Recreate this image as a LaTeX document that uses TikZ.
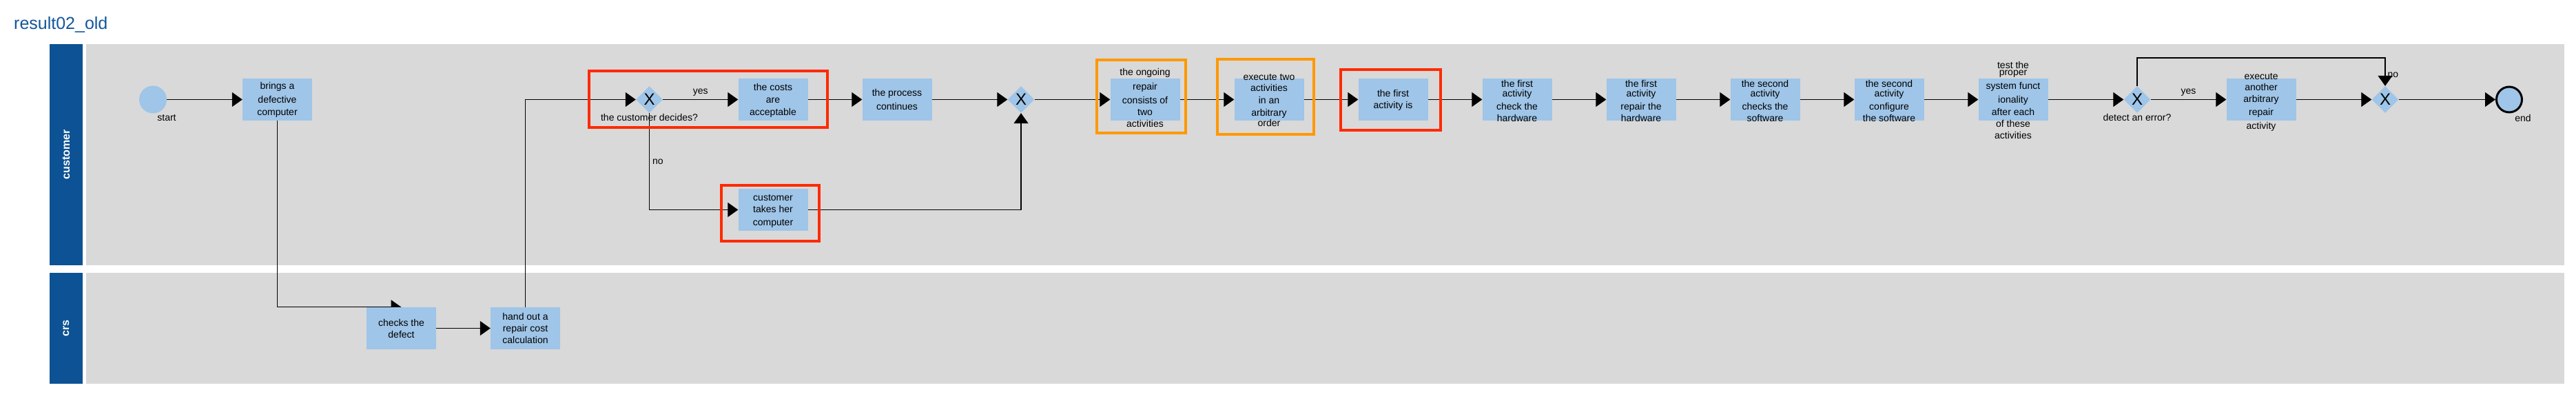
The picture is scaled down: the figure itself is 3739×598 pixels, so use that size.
\documentclass[tikz,border=0pt]{standalone}
\usepackage{fontspec}
\setmainfont{Liberation Sans}
\usetikzlibrary{arrows.meta,shapes.geometric}
\definecolor{lanegray}{HTML}{D9D9D9}
\definecolor{hdrblue}{HTML}{0D5294}
\definecolor{taskblue}{HTML}{9FC5E8}
\definecolor{titleblue}{HTML}{13569A}
\definecolor{hlred}{HTML}{FF2A00}
\definecolor{hlorange}{HTML}{FF9900}
\pgfdeclarelayer{lanes}
\pgfdeclarelayer{edges}
\pgfsetlayers{lanes,edges,main}
\tikzset{
  task/.style={rectangle, fill=taskblue, minimum width=101bp, minimum height=61bp, inner sep=0pt},
  tasktext/.style={align=center, font=\fontsize{14bp}{18bp}\selectfont, inner sep=0pt, text=black},
  gw/.style={diamond, fill=taskblue, minimum width=39bp, minimum height=39bp, inner sep=0pt, font=\fontsize{24bp}{24bp}\selectfont},
  startev/.style={circle, fill=taskblue, minimum size=40bp, inner sep=0pt},
  endev/.style={circle, fill=taskblue, draw=black, line width=3bp, minimum size=37bp, inner sep=0pt},
  evlabel/.style={font=\fontsize{14bp}{17bp}\selectfont, text=black},
  edgelabel/.style={font=\fontsize{14bp}{17bp}\selectfont, text=black, inner sep=0pt},
  lanetitle/.style={rotate=90, text=white, font=\fontsize{16bp}{18bp}\selectfont\bfseries},
  flow/.style={draw=black, line width=1.3bp, -{Triangle[length=15bp,width=21bp]}},
  hlr/.style={draw=hlred, line width=4bp},
  hlo/.style={draw=hlorange, line width=4bp},
}
\begin{document}
\begin{tikzpicture}[x=1bp,y=-1bp]
\useasboundingbox (0,0) rectangle (3739,598);
\begin{pgfonlayer}{lanes}
  \fill[white] (0,0) rectangle (3739,598);
  \fill[hdrblue] (72,64) rectangle (120,385);
  \fill[lanegray] (125,64) rectangle (3722,385);
  \fill[hdrblue] (72,396) rectangle (120,557);
  \fill[lanegray] (125,396) rectangle (3722,557);
\end{pgfonlayer}

\node[anchor=base west, inner sep=0pt, text=titleblue, font=\fontsize{25bp}{28bp}\selectfont] (title) at (20,43) {result02\_old};
\node[lanetitle] (lcust) at (96,224.5) {customer};
\node[lanetitle] (lcrs) at (96,476.5) {crs};

% customer lane
\node[startev, label={[evlabel, xshift=20bp, label distance=-2bp]below:start}] (start) at (222,144.5) {};
\node[task, label={[tasktext]center:{brings a\\[2bp]defective\\computer}}] (brings) at (402.5,144.5) {};
\node[gw, label={[evlabel, label distance=-2bp]below:the customer decides?}] (gw1) at (942.5,144.5) {X};
\node[task, label={[tasktext, yshift=-1.5bp]center:{the costs\\are\\acceptable}}] (costs) at (1122,144.5) {};
\node[task, label={[tasktext]center:{the process\\[2bp]continues}}] (process) at (1302,144.5) {};
\node[gw] (gw2) at (1482,144.5) {X};
\node[task, label={[tasktext, yshift=-1.5bp]center:{customer\\[-1bp]takes her\\[1bp]computer}}] (takes) at (1122,304.5) {};
\node[task, label={[tasktext, yshift=3bp]center:{the ongoing\\[3bp]repair\\[2bp]consists of\\[-1bp]two\\[-1bp]activities}}] (ongoing) at (1662,144.5) {};
\node[task, label={[tasktext, yshift=-1bp]center:{execute two\\[-2bp]activities\\in an\\arbitrary\\[-3bp]order}}] (execute) at (1842,144.5) {};
\node[task, label={[tasktext, yshift=-1bp]center:{the first\\[-1bp]activity is}}] (firstis) at (2022,144.5) {};
\node[task, label={[tasktext, yshift=-1.5bp]center:{the first\\[-4bp]activity\\[1bp]check the\\[-1bp]hardware}}] (checkhw) at (2202,144.5) {};
\node[task, label={[tasktext, yshift=-1.5bp]center:{the first\\[-4bp]activity\\[1bp]repair the\\[-1bp]hardware}}] (repairhw) at (2382,144.5) {};
\node[task, label={[tasktext, yshift=-1.5bp]center:{the second\\[-4bp]activity\\[1bp]checks the\\[-1bp]software}}] (checksw) at (2562,144.5) {};
\node[task, label={[tasktext, yshift=-1.5bp]center:{the second\\[-4bp]activity\\[1bp]configure\\[-1bp]the software}}] (configsw) at (2742,144.5) {};
\node[task, label={[tasktext, yshift=-0.5bp]center:{test the\\[-8bp]proper\\[2bp]system funct\\[2bp]ionality\\after each\\[-1bp]of these\\[-1bp]activities}}] (test) at (2922,144.5) {};
\node[gw, label={[evlabel, label distance=-2bp]below:detect an error?}] (gw3) at (3102,144.5) {X};
\node[task, label={[tasktext, yshift=-3.5bp]center:{execute\\[-2bp]another\\[-1bp]arbitrary\\[1bp]repair\\[2bp]activity}}] (another) at (3282,144.5) {};
\node[gw] (gw4) at (3462,144.5) {X};
\node[endev, label={[evlabel, xshift=20bp, label distance=-2bp]below:end}] (end) at (3642,144.5) {};
\coordinate (looptop) at (3282,84);

% crs lane
\node[task, label={[tasktext]center:{checks the\\[-1bp]defect}}] (checks) at (582.5,476.5) {};
\node[task, label={[tasktext]center:{hand out a\\[-1bp]repair cost\\[-1bp]calculation}}] (handout) at (762.5,476.5) {};

% highlight frames
\draw[hlr] (855,103) rectangle (1201,185);
\draw[hlr] (1047,269) rectangle (1189,350);
\draw[hlo] (1592,87) rectangle (1721,193);
\draw[hlo] (1767,86) rectangle (1907,195);
\draw[hlr] (1946,101) rectangle (2091,189);

\begin{pgfonlayer}{edges}
  \draw[flow] (start) -- (brings);
  \draw[flow] (brings.south) |- (checks.north);
  \draw[flow] (checks) -- (handout);
  \draw[flow] (handout.north) |- (gw1.west);
  \draw[flow] (gw1) -- node[edgelabel, anchor=base, yshift=8bp] {yes} (costs);
  \draw[flow] (costs) -- (process);
  \draw[flow] (process) -- (gw2);
  \draw[flow] (gw1.south) |- node[edgelabel, pos=0.25, anchor=west, xshift=4bp] {no} (takes.west);
  \draw[flow] (takes.east) -| (gw2.south);
  \draw[flow] (gw2) -- (ongoing);
  \draw[flow] (ongoing) -- (execute);
  \draw[flow] (execute) -- (firstis);
  \draw[flow] (firstis) -- (checkhw);
  \draw[flow] (checkhw) -- (repairhw);
  \draw[flow] (repairhw) -- (checksw);
  \draw[flow] (checksw) -- (configsw);
  \draw[flow] (configsw) -- (test);
  \draw[flow] (test) -- (gw3);
  \draw[flow] (gw3) -- node[edgelabel, anchor=base, yshift=8bp] {yes} (another);
  \draw[flow] (another) -- (gw4);
  \draw[flow] (gw3.north) |- (looptop) -| node[edgelabel, pos=0.8, anchor=west, xshift=3bp] {no} (gw4.north);
  \draw[flow] (gw4) -- (end);
\end{pgfonlayer}
\end{tikzpicture}
\end{document}
